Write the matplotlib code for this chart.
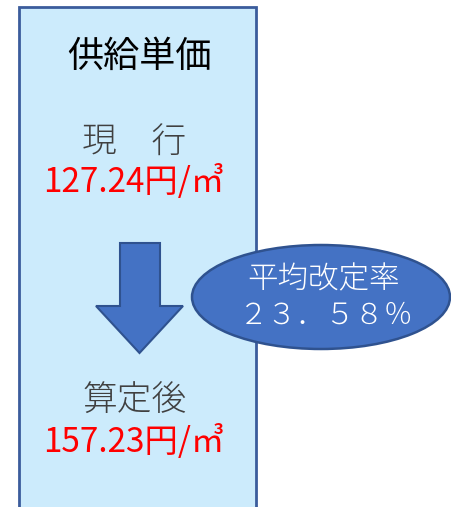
import matplotlib
matplotlib.use("Agg")
import matplotlib.pyplot as plt
from matplotlib.patches import Rectangle, Ellipse, Polygon

plt.rcParams['font.family'] = ['Noto Sans CJK JP', 'DejaVu Sans']

title = "供給単価"
current_label = "現　行"
current_price = "127.24"
new_label = "算定後"
new_price = "157.23"
unit = "円/㎥"
rate_label = "平均改定率"
rate_value = "２３．５８％"

W, H = 452, 507
fig = plt.figure(figsize=(W / 100, H / 100), dpi=100)
ax = fig.add_axes([0, 0, 1, 1])
ax.set_xlim(0, W)
ax.set_ylim(H, 0)
ax.axis('off')

# main box
ax.add_patch(Rectangle((19, 7), 237, 510, facecolor='#CCEBFC',
                       edgecolor='#3B5C9C', linewidth=2))

# arrow
arrow = [(120, 243), (160, 243), (160, 306), (183, 306), (139.5, 353),
         (96, 306), (120, 306)]
ax.add_patch(Polygon(arrow, closed=True, facecolor='#4472C4',
                     edgecolor='#2F528F', linewidth=1.5))

# ellipse
ax.add_patch(Ellipse((321, 297), 258, 104, facecolor='#4472C4',
                     edgecolor='#2F528F', linewidth=1.8))

ax.text(139, 57, title, fontsize=26, color='black', ha='center', va='center')
ax.text(134, 143, current_label, fontsize=25, color='#404040', ha='center',
        va='center', fontweight='light')
ax.text(134, 183, current_price + unit, fontsize=24, color='#FF0000', ha='center', va='center')
ax.text(135, 401, new_label, fontsize=25, color='#404040', ha='center',
        va='center', fontweight='light')
ax.text(134, 443, new_price + unit, fontsize=24, color='#FF0000', ha='center', va='center')

ax.text(324, 279, rate_label, fontsize=22, color='white', ha='center',
        va='center', fontweight='light')
ax.text(326, 315, rate_value, fontsize=21, color='white', ha='center',
        va='center', fontweight='light')

fig.savefig("out.png", dpi=100)
